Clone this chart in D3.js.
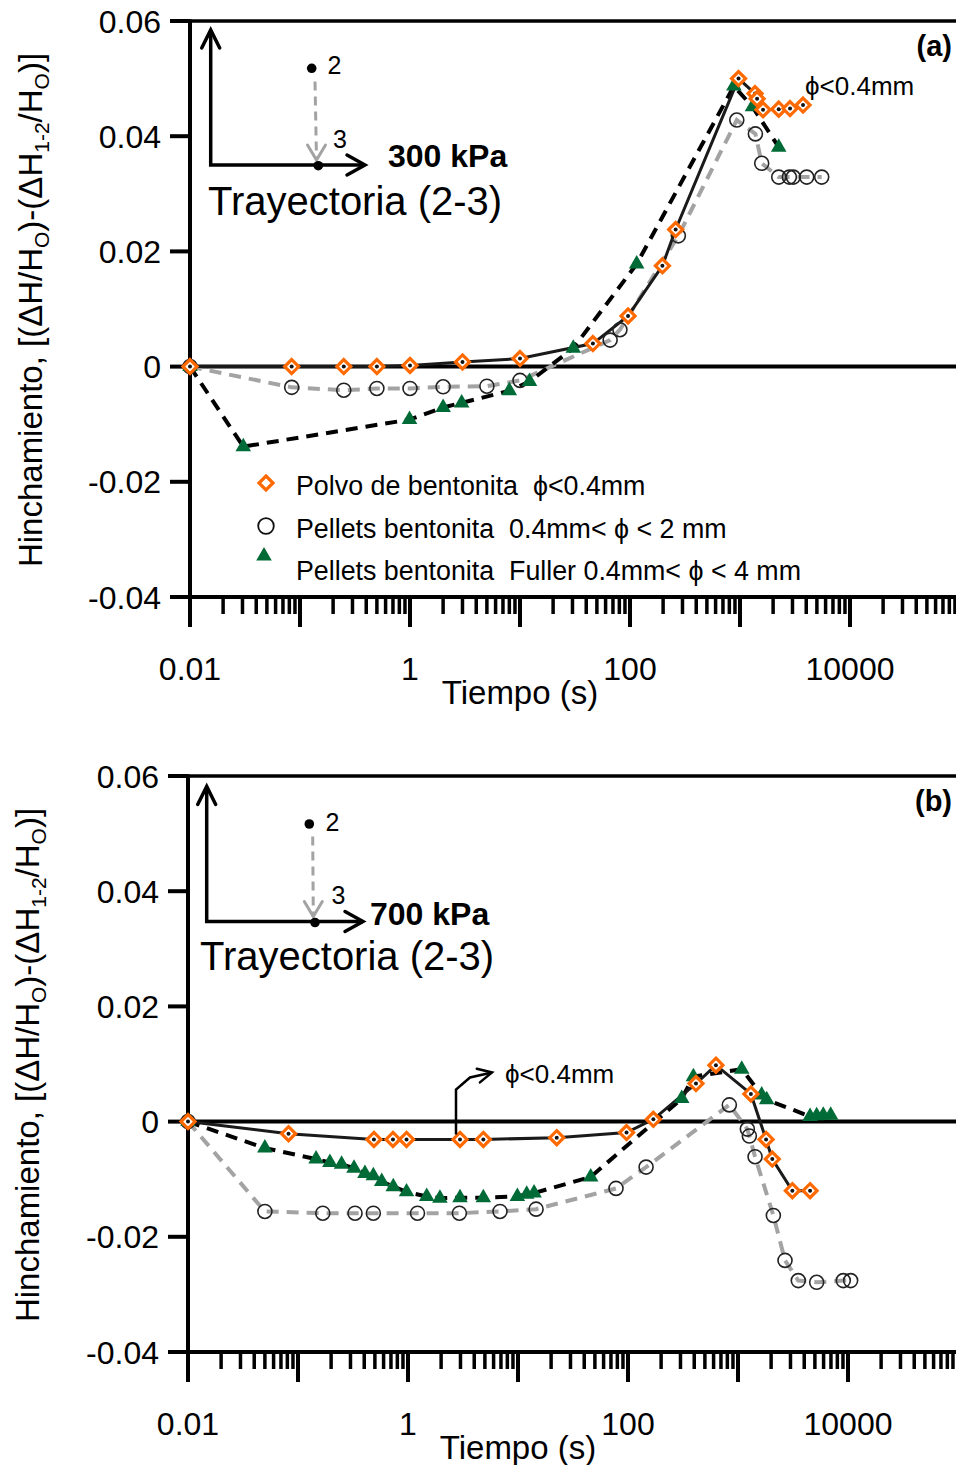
<!DOCTYPE html>
<html>
<head>
<meta charset="utf-8">
<script src="https://cdn.jsdelivr.net/npm/d3@7"></script>
<style>
  body { margin: 0; background: #fff; }
  svg { display: block; }
  text { font-family: "Liberation Sans", Arial, sans-serif; fill: #000; white-space: pre; }
</style>
</head>
<body>
<svg id="chart" width="956" height="1465"></svg>
<script>
// ---- Data: time (s) and swelling for each material, two vertical stresses ----

// (a) 300 kPa
const tPolvoA = [0.01, 0.084, 0.25, 0.5, 1, 3, 10, 46, 96, 197, 260, 970, 1370, 1430, 1620, 2250, 2850, 3740];
const vPolvoA = [0, 0, 0, 0, 0.0002, 0.0008, 0.0014, 0.0040, 0.0088, 0.0175, 0.0238, 0.0500, 0.0474, 0.0465, 0.0446, 0.0447, 0.0448, 0.0454];

const tPelletA = [0.01, 0.084, 0.25, 0.5, 1, 2, 5, 10, 66, 81, 275, 935, 1380, 1575, 2250, 2810, 3050, 4040, 5530];
const vPelletA = [0, -0.0036, -0.0041, -0.0038, -0.0038, -0.0035, -0.0034, -0.0024, 0.0046, 0.0064, 0.0227, 0.0428, 0.0404, 0.0353, 0.0329, 0.0329, 0.0329, 0.0329, 0.0329];

const tFullerA = [0.01, 0.0305, 0.99, 2, 2.95, 8, 12.2, 30.5, 115, 880, 1300, 2250];
const vFullerA = [0, -0.0139, -0.0092, -0.0071, -0.0063, -0.0042, -0.0026, 0.0032, 0.0178, 0.0487, 0.0451, 0.0381];

// (b) 700 kPa
const tPolvoB = [0.01, 0.082, 0.49, 0.73, 0.97, 2.97, 4.84, 22.5, 97, 170, 415, 630, 1310, 1800, 2050, 3120, 4520];
const vPolvoB = [0, -0.0021, -0.0031, -0.0031, -0.0031, -0.0031, -0.0031, -0.0028, -0.0019, 0.0004, 0.0066, 0.0098, 0.0048, -0.0031, -0.0065, -0.0120, -0.0120];

const tPelletB = [0.01, 0.050, 0.168, 0.33, 0.484, 1.22, 2.93, 6.86, 14.6, 77.8, 146, 834, 1216, 1268, 1429, 2096, 2675, 3532, 5190, 9060, 10570];
const vPelletB = [0, -0.0156, -0.0159, -0.0159, -0.0159, -0.0159, -0.0159, -0.0156, -0.0152, -0.0116, -0.0079, 0.0029, -0.0013, -0.0025, -0.0061, -0.0163, -0.0241, -0.0276, -0.0279, -0.0276, -0.0276];

const tFullerB = [0.01, 0.050, 0.146, 0.195, 0.249, 0.323, 0.406, 0.484, 0.577, 0.735, 0.97, 1.48, 1.95, 2.97, 4.84, 9.87, 12, 14, 45.8, 308, 393, 1081, 1642, 1823, 4520, 5190, 5960, 6960];
const vFullerB = [0, -0.0046, -0.0065, -0.0071, -0.0074, -0.0081, -0.0090, -0.0094, -0.0104, -0.0113, -0.0122, -0.0130, -0.0133, -0.0132, -0.0132, -0.0130, -0.0126, -0.0124, -0.0096, 0.0040, 0.0078, 0.0091, 0.0046, 0.0038, 0.0009, 0.0010, 0.0011, 0.0011];

// Axis ticks and labels
const yTickValues = [0.06, 0.04, 0.02, 0, -0.02, -0.04];
const yTickLabels = ["0.06", "0.04", "0.02", "0", "-0.02", "-0.04"];
const xLabelValues = [0.01, 1, 100, 10000];
const xLabelTexts = ["0.01", "1", "100", "10000"];

const legendLabels = [
  "Polvo de bentonita  \u03D5<0.4mm",
  "Pellets bentonita  0.4mm< \u03D5 < 2 mm",
  "Pellets bentonita  Fuller 0.4mm< \u03D5 < 4 mm"
];

const ORANGE = "#ff6a00";
const GREEN = "#006b36";
const GREY = "#a3a3a3";

const svg = d3.select("#chart");

const zip = (t, v) => t.map((d, i) => ({ t: d, v: v[i] }));

function chevron(g, tip, angle, len, half, color, width) {
  const a = angle;
  const bx = tip[0] - len * Math.cos(a), by = tip[1] - len * Math.sin(a);
  const nx = -Math.sin(a) * half, ny = Math.cos(a) * half;
  g.append("path")
    .attr("d", `M${bx + nx},${by + ny} L${tip[0]},${tip[1]} L${bx - nx},${by - ny}`)
    .attr("fill", "none").attr("stroke", color).attr("stroke-width", width)
    .attr("stroke-linejoin", "miter").attr("stroke-linecap", "round");
}

function diamondPath(cx, cy, r) {
  return `M${cx},${cy - r} L${cx + r},${cy} L${cx},${cy + r} L${cx - r},${cy} Z`;
}

const triSym = d3.symbol().type(d3.symbolTriangle).size(105);

function drawPanel(cfg) {
  const g = svg.append("g");
  const x = d3.scaleLog().domain([0.01, 1e5]).range([cfg.x0, cfg.x0 + 770]);
  const y = d3.scaleLinear().domain([-0.04, 0.06]).range([cfg.yBottom, cfg.yTop]);
  const right = 956;

  // frame: top border, bottom axis, left axis, zero line
  g.append("line").attr("x1", cfg.x0).attr("x2", right).attr("y1", y(0.06)).attr("y2", y(0.06))
    .attr("stroke", "#000").attr("stroke-width", 3.5);
  g.append("line").attr("x1", cfg.x0).attr("x2", right).attr("y1", y(-0.04)).attr("y2", y(-0.04))
    .attr("stroke", "#000").attr("stroke-width", 4);
  g.append("line").attr("x1", cfg.x0).attr("x2", cfg.x0).attr("y1", y(0.06) - 1.5).attr("y2", y(-0.04))
    .attr("stroke", "#000").attr("stroke-width", 4);
  g.append("line").attr("x1", cfg.x0).attr("x2", right).attr("y1", y(0)).attr("y2", y(0))
    .attr("stroke", "#000").attr("stroke-width", 4);

  // y ticks
  yTickValues.forEach((v, i) => {
    g.append("line").attr("x1", cfg.x0 - 20).attr("x2", cfg.x0).attr("y1", y(v)).attr("y2", y(v))
      .attr("stroke", "#000").attr("stroke-width", 4);
    g.append("text").attr("x", cfg.x0 - 29).attr("y", y(v)).attr("dy", "0.36em")
      .attr("text-anchor", "end").attr("font-size", 32).text(yTickLabels[i]);
  });

  // x ticks (log): major at decades, minor at 2..9
  x.ticks().forEach(tv => {
    const k = Math.log10(tv);
    const major = Math.abs(k - Math.round(k)) < 1e-9;
    const px = x(tv);
    if (px > right) return;
    g.append("line").attr("x1", px).attr("x2", px)
      .attr("y1", y(-0.04)).attr("y2", y(-0.04) + (major ? 30 : 17))
      .attr("stroke", "#000").attr("stroke-width", major ? 4 : 3.5);
  });
  xLabelValues.forEach((tv, i) => {
    g.append("text").attr("x", x(tv)).attr("y", y(-0.04) + 83)
      .attr("text-anchor", "middle").attr("font-size", 32).text(xLabelTexts[i]);
  });
  g.append("text").attr("x", cfg.x0 + 330).attr("y", y(-0.04) + 107)
    .attr("text-anchor", "middle").attr("font-size", 33).text("Tiempo (s)");

  // y title
  const yt = g.append("text")
    .attr("transform", `translate(${cfg.yTitleX},${(y(0.06) + y(-0.04)) / 2 + 1}) rotate(-90)`)
    .attr("text-anchor", "middle").attr("font-size", 33);
  yt.append("tspan").text("Hinchamiento, [(\u0394H/H");
  yt.append("tspan").attr("font-size", 21).attr("dy", 7).text("O");
  yt.append("tspan").attr("dy", -7).text(")-(\u0394H");
  yt.append("tspan").attr("font-size", 21).attr("dy", 7).text("1-2");
  yt.append("tspan").attr("dy", -7).text("/H");
  yt.append("tspan").attr("font-size", 21).attr("dy", 7).text("O");
  yt.append("tspan").attr("dy", -7).text(")]");

  // series lines
  const line = d3.line().x(d => x(d.t)).y(d => y(d.v));
  const polvo = zip(cfg.tPolvo, cfg.vPolvo);
  const pellet = zip(cfg.tPellet, cfg.vPellet);
  const fuller = zip(cfg.tFuller, cfg.vFuller);

  g.append("path").attr("d", line(pellet)).attr("fill", "none")
    .attr("stroke", GREY).attr("stroke-width", 4).attr("stroke-dasharray", "12,8");
  g.append("path").attr("d", line(fuller)).attr("fill", "none")
    .attr("stroke", "#000").attr("stroke-width", 4).attr("stroke-dasharray", "12,8");
  g.append("path").attr("d", line(polvo)).attr("fill", "none")
    .attr("stroke", "#1a1a1a").attr("stroke-width", 3);

  // markers
  pellet.forEach(d => {
    g.append("circle").attr("cx", x(d.t)).attr("cy", y(d.v)).attr("r", 7)
      .attr("fill", "none").attr("stroke", "#222").attr("stroke-width", 1.6);
  });
  fuller.forEach(d => {
    g.append("path").attr("d", triSym()).attr("transform", `translate(${x(d.t)},${y(d.v)})`)
      .attr("fill", GREEN);
  });
  polvo.forEach(d => {
    g.append("path").attr("d", diamondPath(x(d.t), y(d.v), 7))
      .attr("fill", "#fff").attr("stroke", ORANGE).attr("stroke-width", 3.2);
    g.append("circle").attr("cx", x(d.t)).attr("cy", y(d.v)).attr("r", 2).attr("fill", "#111");
  });

  // stress path inset (2 -> 3)
  const a = cfg.inset;
  const ox = cfg.x0, oy = cfg.yTop;
  const cx = ox + a.corner[0], cy = oy + a.corner[1];
  g.append("path").attr("d", `M${cx},${oy + a.vTip} L${cx},${cy} L${ox + a.hTip},${cy}`)
    .attr("fill", "none").attr("stroke", "#000").attr("stroke-width", 3.5);
  chevron(g, [cx, oy + a.vTip], -Math.PI / 2, 18, 9, "#000", 3.5);
  chevron(g, [ox + a.hTip, cy], 0, 18, 10, "#000", 3.5);
  g.append("line").attr("x1", ox + a.grey[0]).attr("y1", oy + a.grey[1])
    .attr("x2", ox + a.grey[2]).attr("y2", oy + a.grey[3])
    .attr("stroke", GREY).attr("stroke-width", 3).attr("stroke-dasharray", "9,6");
  chevron(g, [ox + a.grey[2], oy + a.grey[3]], Math.PI / 2, 15, 9, GREY, 3);
  g.append("circle").attr("cx", ox + a.dot2[0]).attr("cy", oy + a.dot2[1]).attr("r", 4.8).attr("fill", "#000");
  g.append("circle").attr("cx", ox + a.dot3[0]).attr("cy", oy + a.dot3[1]).attr("r", 4.8).attr("fill", "#000");
  g.append("text").attr("x", ox + a.lab2[0]).attr("y", oy + a.lab2[1]).attr("font-size", 25).text("2");
  g.append("text").attr("x", ox + a.lab3[0]).attr("y", oy + a.lab3[1]).attr("font-size", 25).text("3");
  g.append("text").attr("x", ox + a.kpa[0]).attr("y", oy + a.kpa[1]).attr("font-size", 32)
    .attr("font-weight", "bold").text(cfg.stress);
  g.append("text").attr("x", ox + a.tray[0]).attr("y", oy + a.tray[1]).attr("font-size", 40)
    .text("Trayectoria (2-3)");

  // panel letter
  g.append("text").attr("x", 952).attr("y", oy + 35).attr("text-anchor", "end")
    .attr("font-size", 29).attr("font-weight", "bold").text(cfg.letter);

  return { g, x, y, polvo };
}

// ---- Panel (a) ----
const pa = drawPanel({
  x0: 190, yTop: 21, yBottom: 597, yTitleX: 42, letter: "(a)", stress: "300 kPa",
  tPolvo: tPolvoA, vPolvo: vPolvoA, tPellet: tPelletA, vPellet: vPelletA, tFuller: tFullerA, vFuller: vFullerA,
  inset: { corner: [20.7, 144], vTip: 9, hTip: 175, grey: [125, 60.5, 126.5, 139],
           dot2: [121.7, 47.3], dot3: [128.3, 144.7], lab2: [137.5, 53], lab3: [143, 127],
           kpa: [198, 145.5], tray: [18, 193.5] }
});

// φ label next to the powder curve
pa.g.append("text").attr("x", 805).attr("y", 95).attr("font-size", 26).text("\u03D5<0.4mm");

// legend
const legY = [483, 526, 568];
pa.g.append("path").attr("d", diamondPath(266, legY[0], 7))
  .attr("fill", "#fff").attr("stroke", ORANGE).attr("stroke-width", 3.2);
pa.g.append("circle").attr("cx", 266).attr("cy", legY[1]).attr("r", 7.8)
  .attr("fill", "none").attr("stroke", "#111").attr("stroke-width", 1.8);
pa.g.append("path").attr("d", triSym()).attr("transform", `translate(264,${legY[2] - 12})`).attr("fill", GREEN);
legendLabels.forEach((s, i) => {
  pa.g.append("text").attr("x", 296).attr("y", legY[i] + 12).attr("font-size", 26.8).text(s);
});

// ---- Panel (b) ----
const pb = drawPanel({
  x0: 188, yTop: 776, yBottom: 1352, yTitleX: 39, letter: "(b)", stress: "700 kPa",
  tPolvo: tPolvoB, vPolvo: vPolvoB, tPellet: tPelletB, vPellet: vPelletB, tFuller: tFullerB, vFuller: vFullerB,
  inset: { corner: [18.7, 145.5], vTip: 10.5, hTip: 175, grey: [124.7, 60.5, 125.3, 140.5],
           dot2: [121.3, 48], dot3: [127, 146.5], lab2: [137.5, 54.5], lab3: [143.5, 128],
           kpa: [182, 149], tray: [12, 194] }
});

// callout for the powder curve (φ<0.4mm), anchored on one of its points
const anchor = pb.polvo[5];
const axp = pb.x(anchor.t) - 4, ayp = pb.y(anchor.v) - 5;
pb.g.append("path")
  .attr("d", `M${axp},${ayp} L${axp},${ayp - 45} L${axp + 14},${ayp - 57} L${axp + 36},${ayp - 62}`)
  .attr("fill", "none").attr("stroke", "#000").attr("stroke-width", 2.5);
chevron(pb.g, [axp + 36, ayp - 62], Math.atan2(-5, 22), 14, 7, "#000", 2.5);
pb.g.append("text").attr("x", axp + 49).attr("y", ayp - 51).attr("font-size", 26).text("\u03D5<0.4mm");
</script>
</body>
</html>
